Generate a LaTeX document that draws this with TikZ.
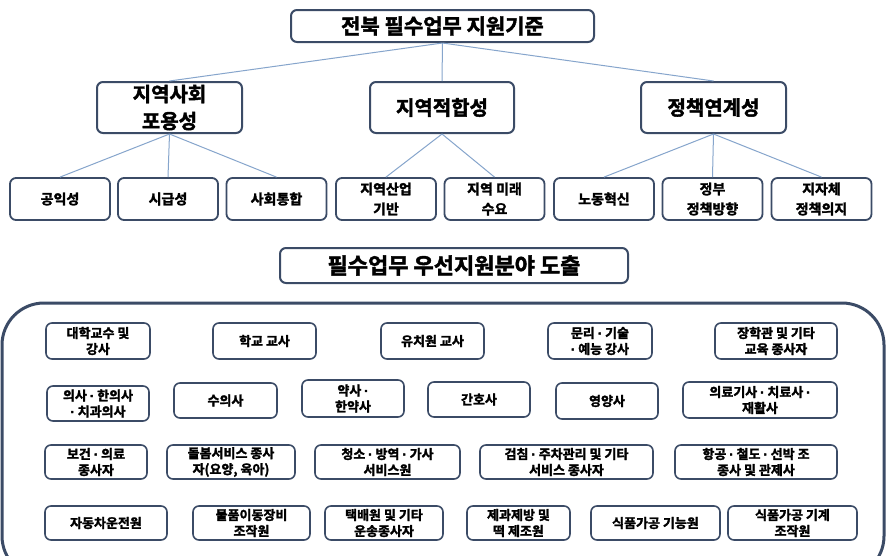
\documentclass[tikz,border=0pt]{standalone}
\usepackage{fontspec}
\setmainfont{Noto Sans CJK KR}[BoldFont={Noto Sans CJK KR Bold}, BoldFeatures={FakeBold=2}]
\newfontfamily\latinf{Liberation Sans}[FakeBold=3]
\newcommand\mdot{{\latinf ·}}
\definecolor{bordc}{HTML}{3B4B66}
\definecolor{connc}{HTML}{86A5CC}
\begin{document}
\begin{tikzpicture}[x=1pt,y=-1pt,
  basebox/.style={draw=bordc, fill=white, rounded corners=6pt, inner sep=0pt, align=center, text=black},
  topbox/.style={basebox, line width=2pt, font=\fontsize{21}{26}\selectfont\bfseries},
  midbox/.style={basebox, line width=2pt, font=\fontsize{20}{27}\selectfont\bfseries},
  lowbox/.style={basebox, line width=1.8pt, minimum width=100pt, minimum height=42pt, font=\fontsize{14}{20}\selectfont\bfseries},
  ibox/.style={basebox, line width=1.6pt, font=\fontsize{13}{16}\selectfont\bfseries},
  conn/.style={draw=connc, line width=1pt}]
\useasboundingbox (0,0) rectangle (886,555);
\fill[white] (0,0) rectangle (886,555);
% top level
\node[topbox, minimum width=303pt, minimum height=32pt] (top) at (442.5,26) {전북 필수업무 지원기준};
\node[midbox, minimum width=145pt, minimum height=51pt] (ma) at (169.5,107.5) {지역사회\\포용성};
\node[midbox, minimum width=144pt, minimum height=51pt] (mb) at (442,107.5) {지역적합성};
\node[midbox, minimum width=145pt, minimum height=51pt] (mc) at (713.5,107.5) {정책연계성};
% third level
\node[lowbox] (la) at (60,199) {공익성};
\node[lowbox] (lb) at (168,199) {시급성};
\node[lowbox] (lc) at (276.5,199) {사회통합};
\node[lowbox] (ld) at (386,199) {지역산업\\기반};
\node[lowbox] (le) at (494.5,199) {지역 미래\\수요};
\node[lowbox] (lf) at (604,199) {노동혁신};
\node[lowbox] (lg) at (712.5,199) {정부\\정책방향};
\node[lowbox] (lh) at (821.5,199) {지자체\\정책의지};
% connectors
\draw[conn] (top.south) -- (ma.north);
\draw[conn] (top.south) -- (mb.north);
\draw[conn] (top.south) -- (mc.north);
\draw[conn] (ma.south) -- (la.north);
\draw[conn] (ma.south) -- (lb.north);
\draw[conn] (ma.south) -- (lc.north);
\draw[conn] (mb.south) -- (ld.north);
\draw[conn] (mb.south) -- (le.north);
\draw[conn] (mc.south) -- (lf.north);
\draw[conn] (mc.south) -- (lg.north);
\draw[conn] (mc.south) -- (lh.north);
% second header
\node[topbox, minimum width=348pt, minimum height=35pt, font=\fontsize{22}{26}\selectfont\bfseries] (hd) at (454,265.5) {필수업무 우선지원분야 도출};
% container
\begin{scope}
\clip (0,0) rectangle (886,555);
\draw[draw=bordc, line width=3pt, rounded corners=42pt] (2,303) rectangle (884,578);
\end{scope}
% row 1
\node[ibox, minimum width=104pt, minimum height=36pt] (r1a) at (98,341) {대학교수 및\\강사};
\node[ibox, minimum width=103pt, minimum height=36pt] (r1b) at (264.5,341) {학교 교사};
\node[ibox, minimum width=103pt, minimum height=36pt] (r1c) at (432.5,341) {유치원 교사};
\node[ibox, minimum width=104pt, minimum height=36pt] (r1d) at (600,341) {문리 \mdot{} 기술\\\mdot{} 예능 강사};
\node[ibox, minimum width=122pt, minimum height=36pt] (r1e) at (776,341) {장학관 및 기타\\교육 종사자};
% row 2
\node[ibox, minimum width=102pt, minimum height=35pt] (r2a) at (98,403.5) {의사 \mdot{} 한의사\\\mdot{} 치과의사};
\node[ibox, minimum width=103pt, minimum height=35pt] (r2b) at (225.5,400.5) {수의사};
\node[ibox, minimum width=102pt, minimum height=37pt] (r2c) at (353,398.5) {약사 \mdot\\한약사};
\node[ibox, minimum width=102pt, minimum height=35pt] (r2d) at (479,399.5) {간호사};
\node[ibox, minimum width=102pt, minimum height=36pt] (r2e) at (607,401) {영양사};
\node[ibox, minimum width=154pt, minimum height=36pt] (r2f) at (760,400) {의료기사 \mdot{} 치료사 \mdot\\재활사};
% row 3
\node[ibox, minimum width=102pt, minimum height=34pt] (r3a) at (96,462) {보건 \mdot{} 의료\\종사자};
\node[ibox, minimum width=128pt, minimum height=34pt] (r3b) at (231,462) {돌봄서비스 종사\\자(요양, 육아)};
\node[ibox, minimum width=145pt, minimum height=34pt] (r3c) at (387.5,462) {청소 \mdot{} 방역 \mdot{} 가사\\서비스원};
\node[ibox, minimum width=173pt, minimum height=34pt] (r3d) at (566.5,462) {검침 \mdot{} 주차관리 및 기타\\서비스 종사자};
\node[ibox, minimum width=162pt, minimum height=34pt] (r3e) at (756,462) {항공 \mdot{} 철도 \mdot{} 선박 조\\종사 및 관제사};
% row 4
\node[ibox, minimum width=122pt, minimum height=34pt] (r4a) at (106,523) {자동차운전원};
\node[ibox, minimum width=117pt, minimum height=34pt] (r4b) at (251.5,523) {물품이동장비\\조작원};
\node[ibox, minimum width=118pt, minimum height=34pt] (r4c) at (384,523) {택배원 및 기타\\운송종사자};
\node[ibox, minimum width=103pt, minimum height=34pt] (r4d) at (518.5,523) {제과제방 및\\떡 제조원};
\node[ibox, minimum width=129pt, minimum height=34pt] (r4e) at (655.5,523) {식품가공 기능원};
\node[ibox, minimum width=129pt, minimum height=34pt] (r4f) at (792.5,523) {식품가공 기계\\조작원};
\end{tikzpicture}
\end{document}
